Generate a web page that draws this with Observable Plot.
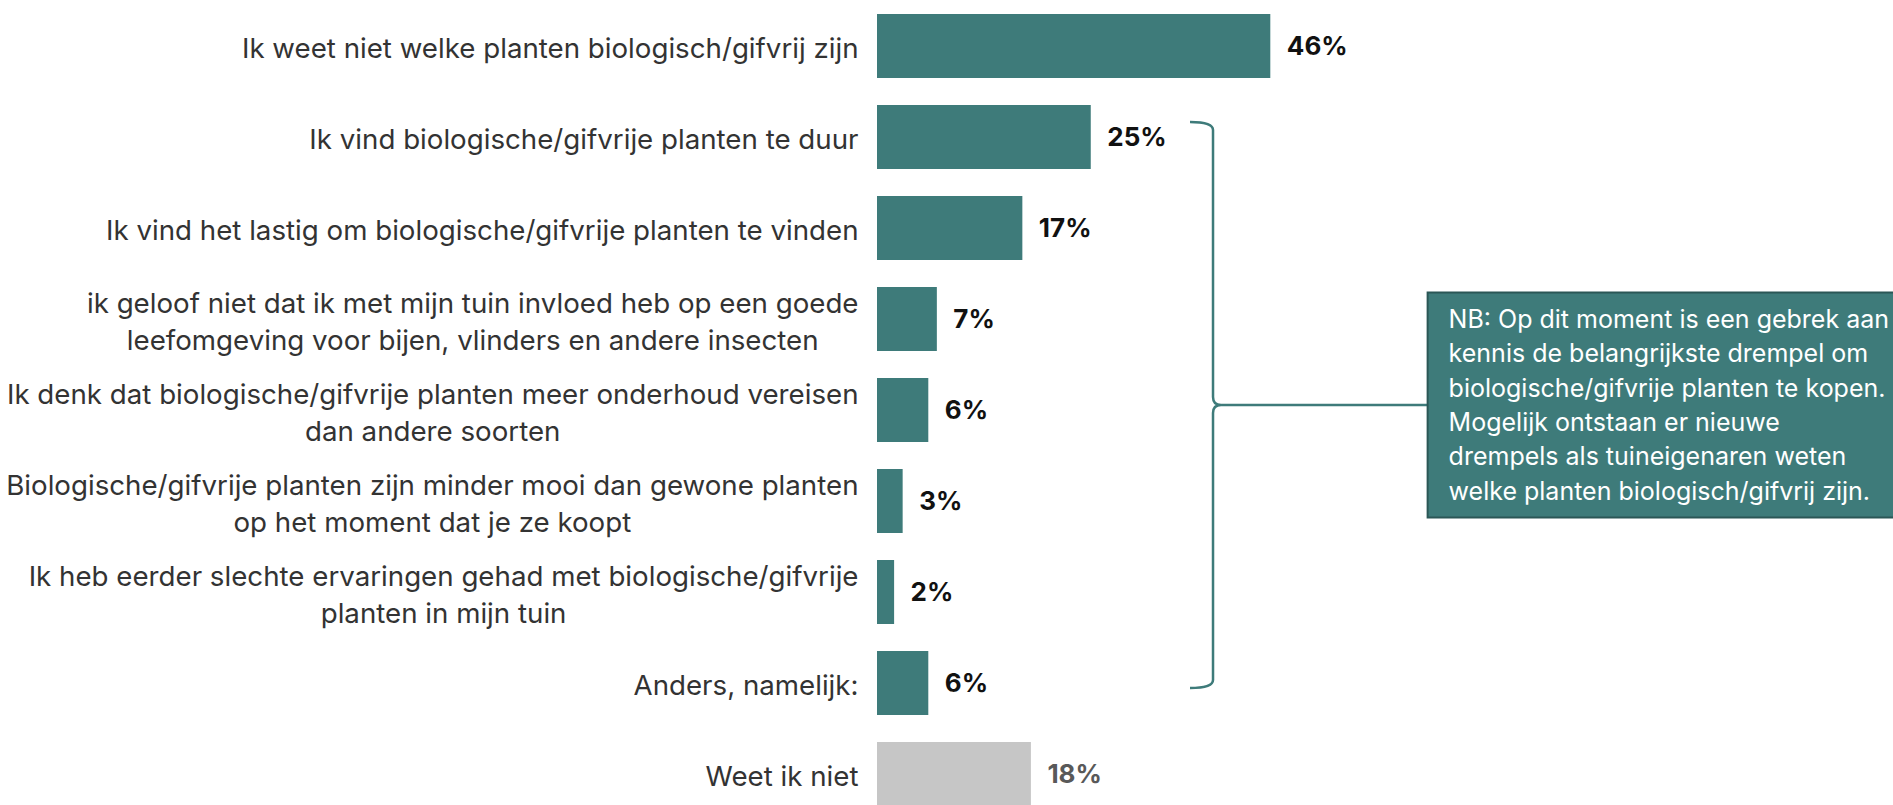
<!DOCTYPE html>
<html>
<head>
<meta charset="utf-8">
<script src="https://cdn.jsdelivr.net/npm/d3@7"></script>
<script src="https://cdn.jsdelivr.net/npm/@observablehq/plot@0.6"></script>
<style>
  html, body { margin: 0; padding: 0; background: #fff; overflow: hidden; }
  #chart { width: 1893px; height: 805px; position: relative; }
</style>
</head>
<body>
<div id="chart"></div>
<script>
// ---- data ----
const categories = [
  "Ik weet niet welke planten biologisch/gifvrij zijn",
  "Ik vind biologische/gifvrije planten te duur",
  "Ik vind het lastig om biologische/gifvrije planten te vinden",
  "ik geloof niet dat ik met mijn tuin invloed heb op een goede\nleefomgeving voor bijen, vlinders en andere insecten",
  "Ik denk dat biologische/gifvrije planten meer onderhoud vereisen\ndan andere soorten",
  "Biologische/gifvrije planten zijn minder mooi dan gewone planten\nop het moment dat je ze koopt",
  "Ik heb eerder slechte ervaringen gehad met biologische/gifvrije\nplanten in mijn tuin",
  "Anders, namelijk:",
  "Weet ik niet"
];
const values = [46, 25, 17, 7, 6, 3, 2, 6, 18];
const groups = ["barrier", "barrier", "barrier", "barrier", "barrier", "barrier", "barrier", "barrier", "unknown"];
const noteText = [
  "NB: Op dit moment is een gebrek aan",
  "kennis de belangrijkste drempel om",
  "biologische/gifvrije planten te kopen.",
  "Mogelijk ontstaan er nieuwe",
  "drempels als tuineigenaren weten",
  "welke planten biologisch/gifvrij zijn."
];

const rows = categories.map((c, i) => ({category: c, value: values[i], group: groups[i]}));

const TEAL = "#3e7b7a";
const FONT = "Inter";

const plot = Plot.plot({
  width: 1893,
  height: 805,
  margin: 0,
  style: {fontFamily: FONT, background: "#fff", overflow: "hidden"},
  x: {domain: [0, 100], range: [877, 1732], axis: null},
  y: {domain: categories, range: [-15.45, 835.5], padding: 0.3, axis: null},
  color: {domain: ["barrier", "unknown"], range: [TEAL, "#c6c6c6"]},
  marks: [
    Plot.barX(rows, {x: "value", y: "category", fill: "group"}),
    Plot.text(rows, {
      x: 0, y: "category", text: "category",
      textAnchor: "end", dx: -19, fontSize: 27.7, lineHeight: 37 / 27.7, fill: "#333"
    }),
    Plot.text(rows, {
      x: "value", y: "category", text: d => d.value + "%",
      textAnchor: "start", dx: 16, fontSize: 26, fontWeight: 700,
      fill: d => d.group === "unknown" ? "#595959" : "#111"
    })
  ]
});

document.getElementById("chart").appendChild(plot);

// center multi-line category labels on their own block
d3.select(plot).selectAll("text").each(function() {
  const tspans = this.querySelectorAll("tspan");
  if (tspans.length > 1) {
    const b = this.getBBox();
    this.setAttribute("text-anchor", "middle");
    tspans.forEach(t => t.setAttribute("x", b.x + b.width / 2));
  }
});

// annotation: brace + note box, positioned through the scales
const xs = plot.scale("x"), ys = plot.scale("y");
const bw = ys.bandwidth;
const braceX = xs.apply(39.3);
const boxX = xs.apply(64.4);
const yTop = ys.apply(categories[1]) + bw / 2 - 15;
const yBot = ys.apply(categories[7]) + bw / 2 + 5;
const yMid = (yTop + yBot) / 2;
const hook = 23, r = 8;

const svg = d3.select(plot);
svg.append("path")
  .attr("fill", "none").attr("stroke", TEAL).attr("stroke-width", 2.5)
  .attr("d", `M${braceX - hook},${yTop} Q${braceX},${yTop} ${braceX},${yTop + r}
              L${braceX},${yMid - r} Q${braceX},${yMid} ${braceX + 8},${yMid}
              Q${braceX},${yMid} ${braceX},${yMid + r}
              L${braceX},${yBot - r} Q${braceX},${yBot} ${braceX - hook},${yBot}`);
svg.append("line")
  .attr("x1", braceX + 8).attr("x2", boxX).attr("y1", yMid).attr("y2", yMid)
  .attr("stroke", TEAL).attr("stroke-width", 2.5);

const lineH = 34.4, boxH = 225;
svg.append("rect")
  .attr("x", boxX).attr("y", yMid - boxH / 2).attr("width", 520).attr("height", boxH)
  .attr("fill", TEAL).attr("stroke", "#2b5756").attr("stroke-width", 2);
const note = svg.append("text")
  .attr("font-family", FONT).attr("font-size", 25).attr("fill", "#fff")
  .attr("text-anchor", "start");
noteText.forEach((t, i) => {
  note.append("tspan").attr("x", boxX + 21).attr("y", yMid - 2.5 * lineH + i * lineH).attr("dy", "0.35em").text(t);
});
</script>
</body>
</html>
